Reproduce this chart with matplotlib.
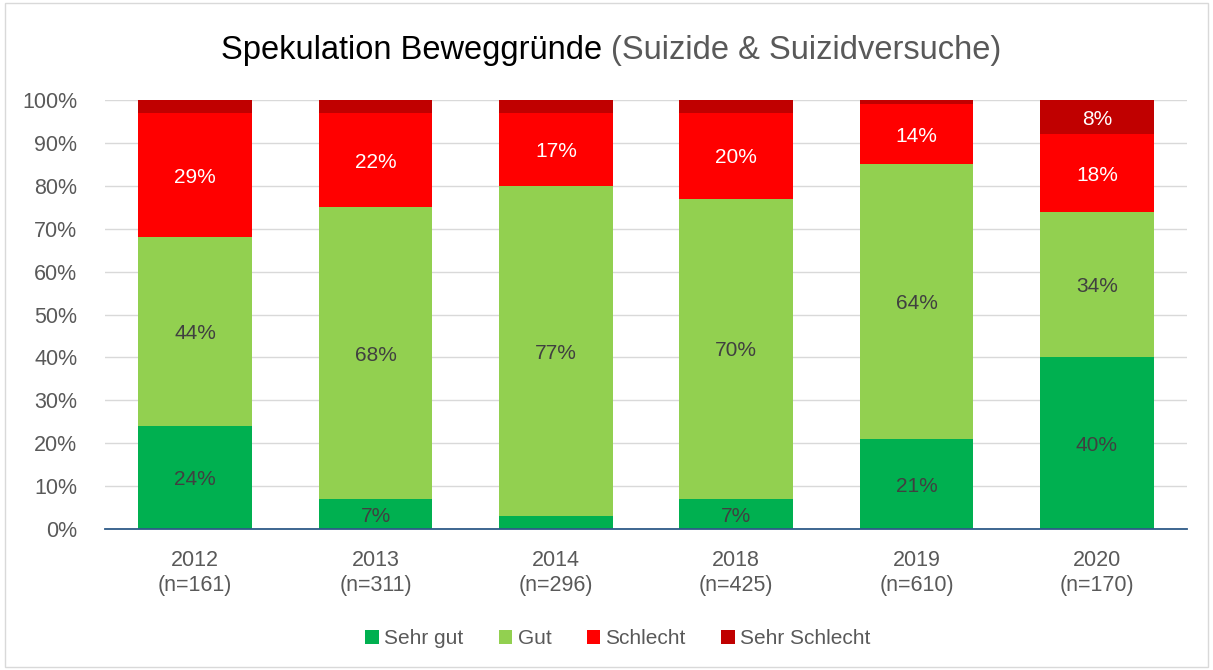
import matplotlib.pyplot as plt
import numpy as np
from matplotlib.patches import Rectangle

plt.rcParams['font.family'] = ['Liberation Sans', 'DejaVu Sans']

# Daten
jahre = ['2012', '2013', '2014', '2018', '2019', '2020']
n_werte = [161, 311, 296, 425, 610, 170]
sehr_gut = [24, 7, 3, 7, 21, 40]
gut = [44, 68, 77, 70, 64, 34]
schlecht = [29, 22, 17, 20, 14, 18]
sehr_schlecht = [3, 3, 3, 3, 1, 8]

serien = [
    ('Sehr gut', sehr_gut, '#00B050', '#404040'),
    ('Gut', gut, '#92D050', '#404040'),
    ('Schlecht', schlecht, '#FF0000', 'white'),
    ('Sehr Schlecht', sehr_schlecht, '#C00000', 'white'),
]

fig = plt.figure(figsize=(12.13, 6.70), dpi=100)
ax = fig.add_axes([0.0866, 0.2104, 0.892, 0.6403])

# Rahmen um die Grafik
fig.patches.append(Rectangle((0.004, 0.004), 0.992, 0.992, transform=fig.transFigure,
                             fill=False, edgecolor='#D9D9D9', linewidth=1))

x = np.arange(len(jahre))
unten = np.zeros(len(jahre))
for name, werte, farbe, textfarbe in serien:
    werte = np.array(werte, dtype=float)
    ax.bar(x, werte, 0.63, bottom=unten, color=farbe, label=name, zorder=3)
    for i, w in enumerate(werte):
        # kleine Segmente (<5%) bekommen kein Label
        if w >= 5:
            ax.text(x[i], unten[i] + w / 2 - 0.5, f'{int(w)}%', ha='center', va='center',
                    fontsize=15, color=textfarbe, zorder=4)
    unten += werte

ax.set_xlim(-0.5, len(jahre) - 0.5)
ax.set_ylim(0, 100)
ax.set_yticks(np.arange(0, 101, 10))
ax.set_yticklabels([f'{v}%' for v in range(0, 101, 10)])
ax.set_xticks(x)
ax.set_xticklabels([f'{j}\n(n={n})' for j, n in zip(jahre, n_werte)], linespacing=1.25)
ax.tick_params(axis='both', length=0, labelsize=15.5, colors='#595959')
ax.tick_params(axis='x', pad=15)
ax.tick_params(axis='y', pad=20)

ax.grid(axis='y', color='#D9D9D9', linewidth=1, zorder=0)
for s in ['top', 'right', 'left']:
    ax.spines[s].set_visible(False)
ax.spines['bottom'].set_color('#2E5A88')
ax.spines['bottom'].set_linewidth(1.3)
ax.spines['bottom'].set_zorder(5)

# Titel zweifarbig
ty = 0.925
t1 = fig.text(0.5, ty, 'Spekulation Beweggründe ', fontsize=23.5, color='black',
              ha='right', va='center')
fig.canvas.draw()
bb = t1.get_window_extent()
t2 = fig.text(0.5, ty, '(Suizide & Suizidversuche)', fontsize=23.5, color='#595959',
              ha='left', va='center')
fig.canvas.draw()
bb2 = t2.get_window_extent()
breite = (bb.width + bb2.width) / fig.bbox.width
start = 0.5 - breite / 2 + 0.004
t1.set_position((start + bb.width / fig.bbox.width, ty))
t2.set_position((start + bb.width / fig.bbox.width, ty))

leg = ax.legend(loc='upper center', bbox_to_anchor=(0.474, -0.19), ncol=4, frameon=False,
                fontsize=15, handlelength=0.65, handleheight=0.65, handletextpad=0.25,
                columnspacing=1.7)
for t in leg.get_texts():
    t.set_color('#595959')

plt.savefig('out.png', dpi=100)
